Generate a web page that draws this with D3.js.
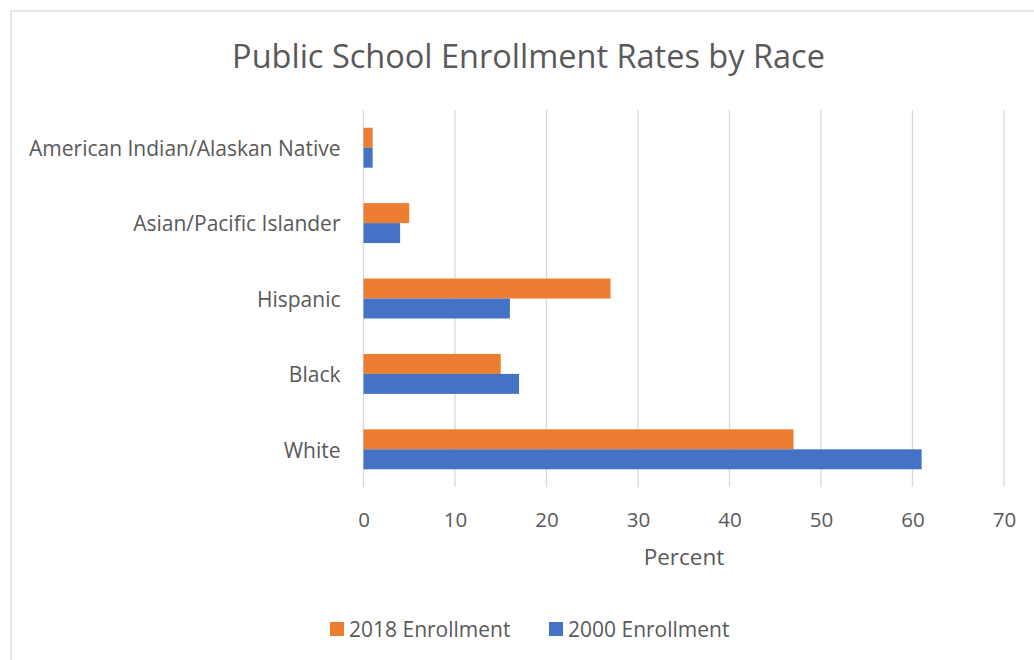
<!DOCTYPE html>
<html><head><meta charset="utf-8">
<script src="https://cdn.jsdelivr.net/npm/d3@7"></script>
<style>body{margin:0;background:#fff;} text{font-family:"Open Sans",sans-serif;fill:#595959;}</style>
</head><body><svg id="c" width="1034" height="660"></svg>
<script>
const categories = ["American Indian/Alaskan Native","Asian/Pacific Islander","Hispanic","Black","White"];
const enroll2018 = [1,5,27,15,47];
const enroll2000 = [1,4,16,17,61];
const seriesNames = ["2018 Enrollment","2000 Enrollment"];
const seriesColors = ["#ED7D31","#4472C4"];
const xTicks = [0,10,20,30,40,50,60,70];

const svg = d3.select("#c");
svg.append("rect").attr("x",11).attr("y",11).attr("width",1040).attr("height",660).attr("fill","#fff").attr("stroke","#d9d9d9").attr("stroke-width",1.3);

const x = d3.scaleLinear().domain([0,70]).range([363.5,1004]);
const y = d3.scaleBand().domain(categories).range([110,487]).paddingInner(0.47).paddingOuter(0.235);

svg.append("text").attr("x",528.5).attr("y",68).attr("text-anchor","middle").attr("font-size",32.5).text("Public School Enrollment Rates by Race");

// gridlines
svg.append("g").selectAll("line").data(xTicks).join("line")
  .attr("x1",d=>x(d)).attr("x2",d=>x(d)).attr("y1",110).attr("y2",487)
  .attr("stroke","#d9d9d9").attr("stroke-width",1.3);

const data = categories.map((c,i)=>({c, v:[enroll2018[i],enroll2000[i]]}));
const sub = d3.scaleBand().domain([0,1]).range([0,y.bandwidth()]);
const g = svg.append("g");
data.forEach(d=>{
  d.v.forEach((v,j)=>{
    g.append("rect").attr("x",x(0)).attr("y",y(d.c)+sub(j)).attr("width",x(v)-x(0)).attr("height",sub.bandwidth()).attr("fill",seriesColors[j]);
  });
});

// x axis labels
const xa = svg.append("g").attr("transform","translate(0,487)").call(d3.axisBottom(x).tickValues(xTicks).tickSize(0).tickPadding(21));
xa.select(".domain").remove();
xa.selectAll("text").attr("font-size",20.5).attr("fill","#595959").attr("font-family","Open Sans, sans-serif").attr("dy","0.95em");

// y axis labels
const ya = svg.append("g").attr("transform","translate(363.5,1.5)").call(d3.axisLeft(y).tickSize(0).tickPadding(23));
ya.select(".domain").remove();
ya.selectAll("text").attr("font-size",21).attr("fill","#595959").attr("font-family","Open Sans, sans-serif");

svg.append("text").attr("x",684).attr("y",565).attr("text-anchor","middle").attr("font-size",22.5).text("Percent");

// legend
const lx = [330,549];
seriesNames.forEach((n,i)=>{
  svg.append("rect").attr("x",lx[i]).attr("y",622).attr("width",14).attr("height",14).attr("fill",seriesColors[i]);
  svg.append("text").attr("x",lx[i]+19).attr("y",636.5).attr("font-size",21).text(n);
});
</script></body></html>
